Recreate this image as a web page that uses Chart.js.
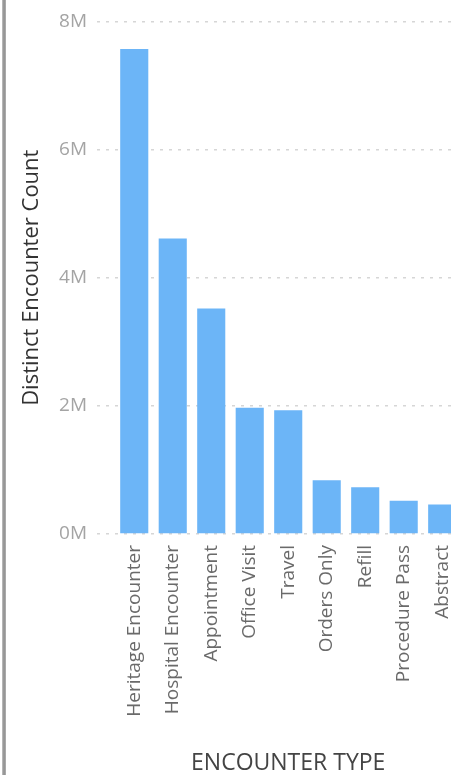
<!DOCTYPE html>
<html>
<head>
<meta charset="utf-8">
<script src="https://cdn.jsdelivr.net/npm/chart.js@4.4.1/dist/chart.umd.min.js"></script>
<style>
  html, body { margin: 0; padding: 0; background: #fff; overflow: hidden; }
  #wrap { position: relative; width: 451px; height: 775px; overflow: hidden; }
  #edge { position: absolute; left: 2px; top: 0; width: 4px; height: 775px; background: linear-gradient(to right, #c4c4c4, #8c8c8c 50%, #b4b4b4); }
  #chart { position: absolute; left: 0; top: 0; }
</style>
</head>
<body>
<div id="wrap">
  <canvas id="chart" width="476" height="775"></canvas>
  <div id="edge"></div>
</div>
<script>
  // encounter types and their distinct counts
  const categories = ['Heritage Encounter', 'Hospital Encounter', 'Appointment', 'Office Visit',
    'Travel', 'Orders Only', 'Refill', 'Procedure Pass', 'Abstract'];
  const encounterCounts = [7570000, 4610000, 3520000, 1970000, 1930000, 840000, 730000, 520000, 460000];
  const yTicks = [0, 2000000, 4000000, 6000000, 8000000];

  const FONT = '"Open Sans", "Segoe UI", Arial, sans-serif';

  new Chart(document.getElementById('chart'), {
    type: 'bar',
    data: {
      labels: categories,
      datasets: [{
        label: 'Distinct Encounter Count',
        data: encounterCounts,
        backgroundColor: '#6cb5f7',
        borderWidth: 0,
        barPercentage: 0.73,
        categoryPercentage: 1
      }]
    },
    options: {
      responsive: false,
      animation: false,
      devicePixelRatio: 1,
      layout: { padding: { top: 16, right: 0, bottom: 0, left: 0 } },
      plugins: {
        legend: { display: false },
        tooltip: { enabled: false }
      },
      scales: {
        x: {
          grid: { display: false, drawTicks: false },
          border: { display: false },
          ticks: {
            autoSkip: false,
            minRotation: 90,
            maxRotation: 90,
            padding: 11,
            color: '#6a6a6a',
            font: { family: FONT, size: 19 }
          },
          title: {
            display: true,
            text: 'ENCOUNTER TYPE',
            color: '#444',
            padding: { top: 0, bottom: 0 },
            font: { family: FONT, size: 23, lineHeight: 1 }
          },
          afterFit: function(scale) { scale.height = 241; }
        },
        y: {
          min: 0,
          max: 8000000,
          afterBuildTicks: function(scale) {
            scale.ticks = yTicks.map(v => ({ value: v }));
          },
          grid: {
            color: '#d6d6d6',
            lineWidth: 1.5,
            tickBorderDash: [3, 6],
            tickLength: 18
          },
          border: { display: false, dash: [3, 6] },
          ticks: {
            padding: 10,
            color: '#a4a4a4',
            font: { family: FONT, size: 19 },
            callback: function(value) { return (value / 1000000) + 'M'; }
          },
          title: {
            display: true,
            text: 'Distinct Encounter Count',
            color: '#333',
            padding: { top: 19, bottom: 0 },
            font: { family: FONT, size: 22, lineHeight: 1.2 }
          },
          afterFit: function(scale) { scale.width = 115; }
        }
      }
    }
  });
</script>
</body>
</html>
